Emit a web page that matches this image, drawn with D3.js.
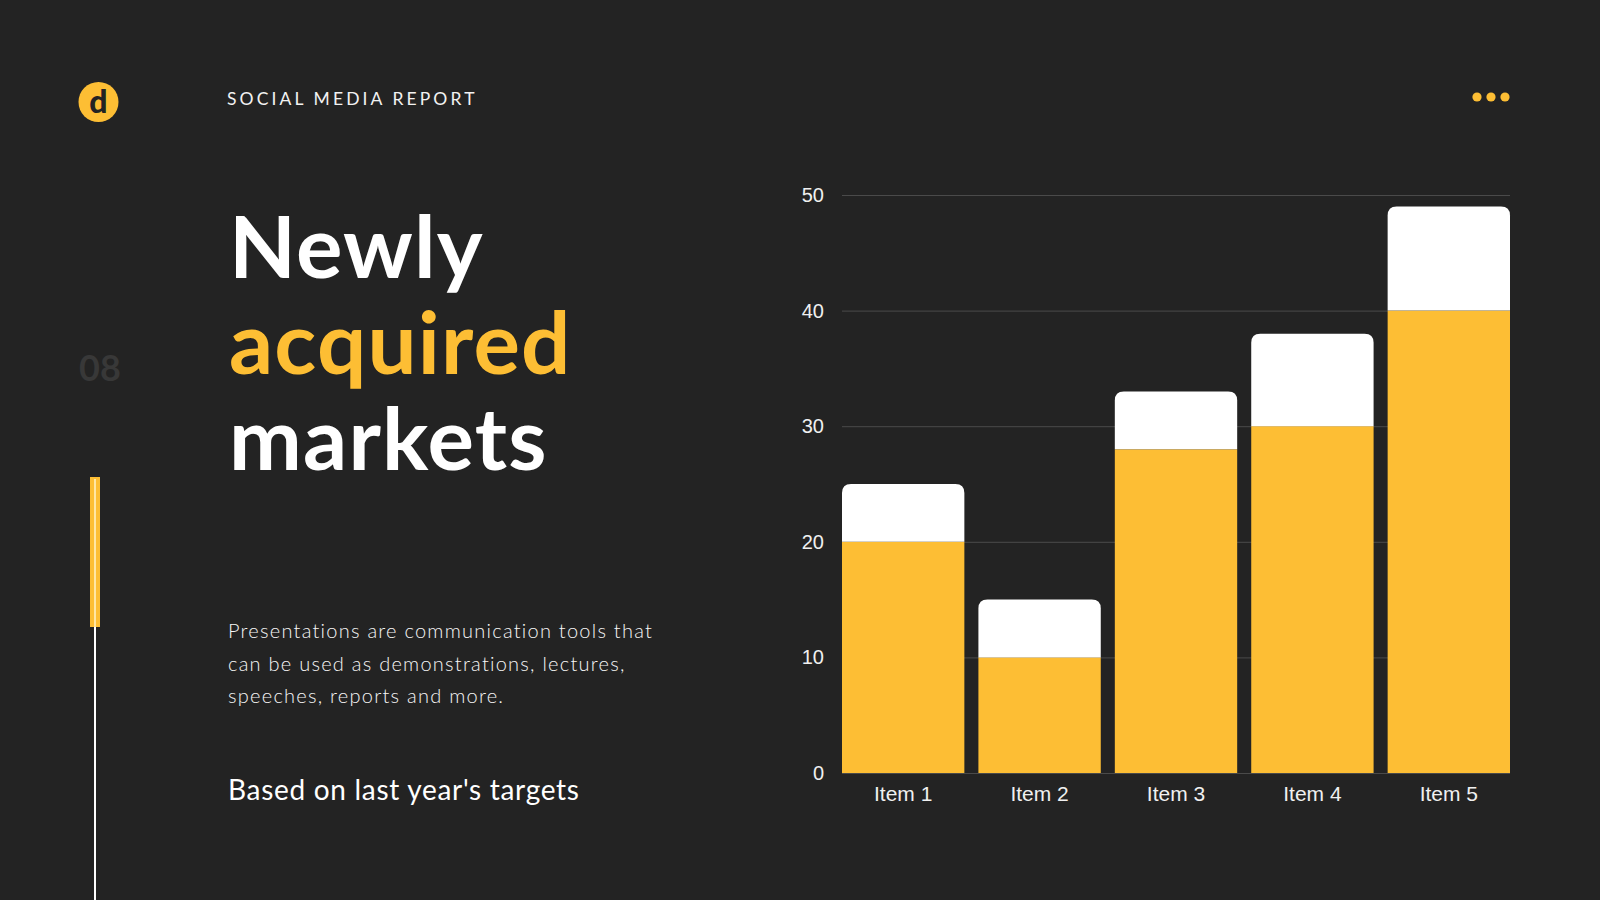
<!DOCTYPE html>
<html>
<head>
<meta charset="utf-8">
<script src="https://cdn.jsdelivr.net/npm/d3@7"></script>
<style>
  html, body { margin: 0; padding: 0; background: #232323; }
  svg { display: block; }
</style>
</head>
<body>
<svg id="chart" width="1600" height="900"></svg>
<script>
// chart data
const categories = ["Item 1", "Item 2", "Item 3", "Item 4", "Item 5"];
const baseValues = [20, 10, 28, 30, 40];
const extraValues = [5, 5, 5, 8, 9];
const yTicks = [0, 10, 20, 30, 40, 50];

// page text
const headerText = "SOCIAL MEDIA REPORT";
const pageNumber = "08";
const titleLines = ["Newly", "acquired", "markets"];
const bodyLines = [
  "Presentations are communication tools that",
  "can be used as demonstrations, lectures,",
  "speeches, reports and more."
];
const subText = "Based on last year's targets";

const yellow = "#fdbe34";
const bg = "#232323";

const svg = d3.select("#chart");
const width = +svg.attr("width");
const height = +svg.attr("height");

svg.append("rect").attr("width", width).attr("height", height).attr("fill", bg);

// logo
svg.append("circle").attr("cx", 98.5).attr("cy", 102).attr("r", 20).attr("fill", yellow);
svg.append("text")
  .attr("x", 98.5).attr("y", 113)
  .attr("text-anchor", "middle")
  .attr("font-family", "Lato, sans-serif")
  .attr("font-weight", 900)
  .attr("font-size", 32)
  .attr("fill", bg)
  .text("d");

// header
svg.append("text")
  .attr("x", 227).attr("y", 105)
  .attr("font-family", "Lato, sans-serif")
  .attr("font-size", 17.5)
  .attr("letter-spacing", 3.1)
  .attr("fill", "#f2f2f2")
  .text(headerText);

// menu dots
svg.selectAll("circle.dot")
  .data([1477, 1491, 1505])
  .enter()
  .append("circle")
  .attr("class", "dot")
  .attr("cx", (d) => d)
  .attr("cy", 97)
  .attr("r", 4.6)
  .attr("fill", yellow);

// page number + side rule
svg.append("text")
  .attr("x", 79).attr("y", 381)
  .attr("font-family", "Lato, sans-serif")
  .attr("font-weight", 700)
  .attr("font-size", 36)
  .attr("fill", "#383838")
  .text(pageNumber);

svg.append("line")
  .attr("x1", 95).attr("x2", 95)
  .attr("y1", 478).attr("y2", height)
  .attr("stroke", "#ffffff")
  .attr("stroke-width", 2);
svg.append("rect")
  .attr("x", 90).attr("y", 477)
  .attr("width", 10).attr("height", 150)
  .attr("fill", yellow);
svg.append("line")
  .attr("x1", 95).attr("x2", 95)
  .attr("y1", 479).attr("y2", 627)
  .attr("stroke", "#fff3c8")
  .attr("stroke-width", 1.5);

// title
svg.append("g")
  .selectAll("text")
  .data(titleLines)
  .enter()
  .append("text")
  .attr("x", 229)
  .attr("y", (d, i) => 278 + i * 96)
  .attr("font-family", "Lato, sans-serif")
  .attr("font-weight", 700)
  .attr("font-size", 87)
  .attr("letter-spacing", 1.2)
  .attr("fill", (d, i) => (i === 1 ? yellow : "#ffffff"))
  .text((d) => d);

// body copy
svg.append("g")
  .selectAll("text")
  .data(bodyLines)
  .enter()
  .append("text")
  .attr("x", 228)
  .attr("y", (d, i) => 638 + i * 32.5)
  .attr("font-family", "Lato, sans-serif")
  .attr("font-weight", 300)
  .attr("font-size", 20)
  .attr("letter-spacing", 1.25)
  .attr("fill", "#f6f6f6")
  .text((d) => d);

svg.append("text")
  .attr("x", 228).attr("y", 800)
  .attr("font-family", "Lato, sans-serif")
  .attr("font-size", 28)
  .attr("letter-spacing", 0.7)
  .attr("fill", "#ffffff")
  .text(subText);

// bar chart
const x = d3.scaleBand()
  .domain(categories)
  .range([842, 1510])
  .paddingInner(0.103)
  .paddingOuter(0);

const y = d3.scaleLinear().domain([0, 50]).range([773, 195]);

const rows = categories.map((c, i) => ({ cat: c, base: baseValues[i], extra: extraValues[i] }));
const stacked = d3.stack().keys(["base", "extra"])(rows);

const chart = svg.append("g");

chart.append("g")
  .selectAll("line")
  .data(yTicks)
  .enter()
  .append("line")
  .attr("x1", 842).attr("x2", 1510)
  .attr("y1", (d) => y(d) + 0.5).attr("y2", (d) => y(d) + 0.5)
  .attr("stroke", "#4a4a4a")
  .attr("stroke-width", 1);

const yAxis = chart.append("g")
  .attr("transform", "translate(832,0)")
  .call(d3.axisLeft(y).tickValues(yTicks).tickSize(0).tickPadding(8));
yAxis.select(".domain").remove();
yAxis.selectAll("text")
  .attr("font-family", "'Liberation Sans', Arial, sans-serif")
  .attr("font-size", 20)
  .attr("fill", "#f0f0f0");

const xAxis = chart.append("g")
  .attr("transform", `translate(0,${y(0)})`)
  .call(d3.axisBottom(x).tickSize(0).tickPadding(13));
xAxis.select(".domain").remove();
xAxis.selectAll("text")
  .attr("font-family", "'Liberation Sans', Arial, sans-serif")
  .attr("font-size", 21)
  .attr("fill", "#f0f0f0");

// yellow base segments
chart.append("g")
  .selectAll("rect")
  .data(stacked[0])
  .enter()
  .append("rect")
  .attr("x", (d) => x(d.data.cat))
  .attr("y", (d) => y(d[1]))
  .attr("width", x.bandwidth())
  .attr("height", (d) => y(d[0]) - y(d[1]))
  .attr("fill", yellow);

// white top segments with rounded top corners
const r = 9;
chart.append("g")
  .selectAll("path")
  .data(stacked[1])
  .enter()
  .append("path")
  .attr("d", (d) => {
    const x0 = x(d.data.cat);
    const x1 = x0 + x.bandwidth();
    const top = y(d[1]);
    const bot = y(d[0]);
    return `M${x0},${bot} V${top + r} Q${x0},${top} ${x0 + r},${top} H${x1 - r} Q${x1},${top} ${x1},${top + r} V${bot} Z`;
  })
  .attr("fill", "#ffffff");
</script>
</body>
</html>
